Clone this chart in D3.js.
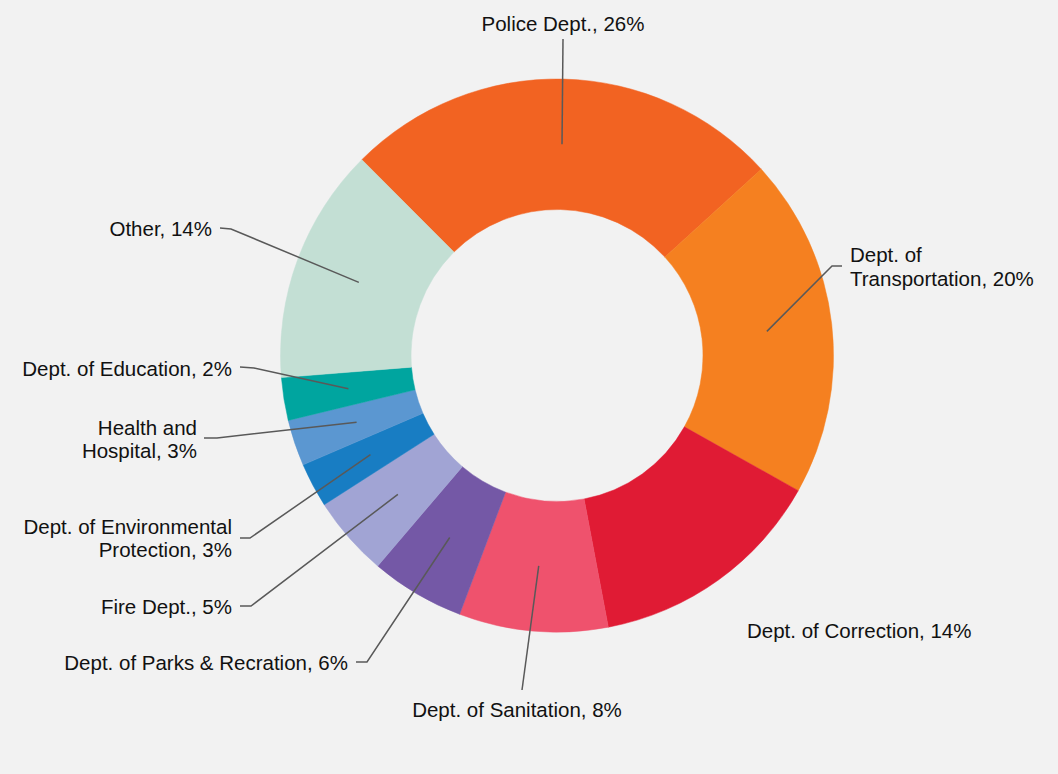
<!DOCTYPE html>
<html>
<head>
<meta charset="utf-8">
<script src="https://cdn.jsdelivr.net/npm/d3@7"></script>
<style>
  html, body { margin: 0; padding: 0; background: #f2f2f2; }
  svg { display: block; }
</style>
</head>
<body>
<div id="chart"></div>
<script>
// Share of spending by agency (labels as printed)
const CATEGORIES = [
  'Police Dept.', 'Dept. of Transportation', 'Dept. of Correction', 'Dept. of Sanitation',
  'Dept. of Parks & Recration', 'Fire Dept.', 'Dept. of Environmental Protection',
  'Health and Hospital', 'Dept. of Education', 'Other'
];
const VALUES = [25.7, 19.9, 13.9, 8.7, 5.5, 4.7, 2.6, 2.7, 2.5, 13.8];
const PCT_LABELS = ['26%', '20%', '14%', '8%', '6%', '5%', '3%', '3%', '2%', '14%'];
const LABEL_LINES = [
  ['Police Dept., 26%'],
  ['Dept. of', 'Transportation, 20%'],
  ['Dept. of Correction, 14%'],
  ['Dept. of Sanitation, 8%'],
  ['Dept. of Parks & Recration, 6%'],
  ['Fire Dept., 5%'],
  ['Dept. of Environmental', 'Protection, 3%'],
  ['Health and', 'Hospital, 3%'],
  ['Dept. of Education, 2%'],
  ['Other, 14%']
];
const COLORS = [
  '#f26322', '#f58020', '#e01b34', '#ef526d', '#7458a6',
  '#a1a4d4', '#187dc3', '#5b97d1', '#00a59f', '#c3dfd4'
];

// label placement (hand-placed like the original), leader goes centroid -> elbow -> text
const LABEL_LAYOUT = [
  { x: 563, y: 31, anchor: 'middle', leader: [[563, 39]] },
  { x: 850, y: 262.3, anchor: 'start', leader: [[832, 266], [842, 266]] },
  { x: 747, y: 638, anchor: 'start', leader: null },
  { x: 517, y: 717.3, anchor: 'middle', leader: [[522, 690]] },
  { x: 348, y: 670, anchor: 'end', leader: [[367, 662], [356, 662]] },
  { x: 232, y: 614, anchor: 'end', leader: [[251, 606], [240, 606]] },
  { x: 232, y: 534, anchor: 'end', leader: [[250, 538], [240, 538]] },
  { x: 197, y: 435, anchor: 'end', leader: [[217, 438], [204, 438]] },
  { x: 232, y: 375.5, anchor: 'end', leader: [[254, 368], [240, 367]] },
  { x: 212, y: 236, anchor: 'end', leader: [[231, 229], [220, 228]] }
];

const WIDTH = 1058, HEIGHT = 774;
const CX = 557, CY = 355.5;
const R_OUTER = 276.5, R_INNER = 146;
const LINE_H = 23.4;
const START = -44.9 * Math.PI / 180;

const svg = d3.select('#chart').append('svg')
  .attr('width', WIDTH)
  .attr('height', HEIGHT);

svg.append('rect')
  .attr('width', WIDTH)
  .attr('height', HEIGHT)
  .attr('fill', '#f2f2f2');

const data = CATEGORIES.map((c, i) => ({ name: c, value: VALUES[i], pct: PCT_LABELS[i], idx: i }));

const pie = d3.pie()
  .sort(null)
  .value(d => d.value)
  .startAngle(START)
  .endAngle(START + 2 * Math.PI);

const arc = d3.arc().innerRadius(R_INNER).outerRadius(R_OUTER);
const midArc = d3.arc().innerRadius((R_INNER + R_OUTER) / 2).outerRadius((R_INNER + R_OUTER) / 2);

const arcs = pie(data);

const g = svg.append('g').attr('transform', `translate(${CX},${CY})`);

g.selectAll('path.slice')
  .data(arcs)
  .join('path')
  .attr('class', 'slice')
  .attr('d', arc)
  .attr('fill', d => COLORS[d.data.idx])
  .attr('stroke', d => COLORS[d.data.idx])
  .attr('stroke-width', 0.5);

// leader lines
const line = d3.line();
arcs.forEach(d => {
  const lay = LABEL_LAYOUT[d.data.idx];
  if (!lay.leader) return;
  const [mx, my] = midArc.centroid(d);
  const pts = [[CX + mx, CY + my], ...lay.leader];
  svg.append('path')
    .attr('d', line(pts))
    .attr('fill', 'none')
    .attr('stroke', '#595959')
    .attr('stroke-width', 1.5);
});

// labels
arcs.forEach(d => {
  const lay = LABEL_LAYOUT[d.data.idx];
  const t = svg.append('text')
    .attr('x', lay.x)
    .attr('y', lay.y)
    .attr('text-anchor', lay.anchor)
    .style('font-family', '"Liberation Sans", Arial, sans-serif')
    .style('font-size', '20.5px')
    .style('fill', '#111');
  LABEL_LINES[d.data.idx].forEach((ln, j) => {
    t.append('tspan')
      .attr('x', lay.x)
      .attr('y', lay.y + j * LINE_H)
      .text(ln);
  });
});
</script>
</body>
</html>
